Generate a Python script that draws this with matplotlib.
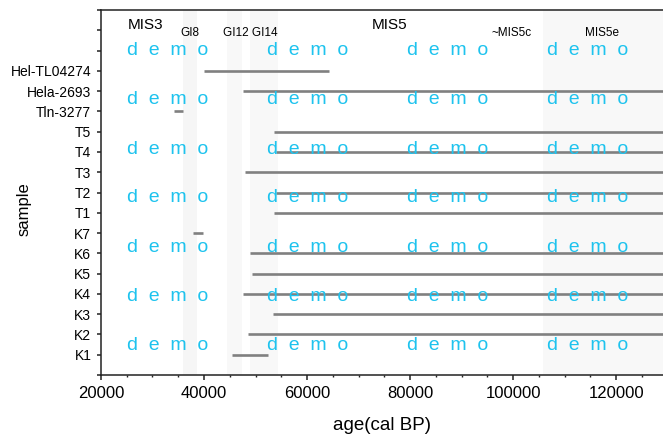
import numpy as np
import matplotlib
matplotlib.use("Agg")
import matplotlib.pyplot as plt

plt.rcParams['font.family'] = ['Liberation Sans', 'DejaVu Sans']

# samples, bottom to top
samples = ["K1", "K2", "K3", "K4", "K5", "K6", "K7",
           "T1", "T2", "T3", "T4", "T5",
           "Tln-3277", "Hela-2693", "Hel-TL04274"]
# age ranges (cal BP)
age_min = [45400, 48600, 53300, 47600, 49300, 48900, 37800,
           53500, 54000, 48000, 54000, 53500,
           34200, 47500, 40000]
age_max = [52500, 130000, 130000, 130000, 130000, 130000, 39900,
           130000, 130000, 130000, 130000, 130000,
           36000, 130000, 64300]

# climate intervals shaded in the background
band_start = [36000, 44500, 48900, 105800]
band_end = [38600, 47400, 54400, 130000]
band_color = ["#f6f6f6", "#f8f8f8", "#f8f8f8", "#f8f8f8"]

fig = plt.figure(figsize=(6.63, 4.43), dpi=100)
ax = fig.add_axes([0.1523, 0.1535, 0.8477, 0.8239])

for s, e, c in zip(band_start, band_end, band_color):
    ax.axvspan(s, e, color=c, lw=0, zorder=0)

y = np.arange(1, len(samples) + 1)
ax.hlines(y, age_min, age_max, color="#808080", lw=1.9, zorder=2)

# period labels
ax.text(25200, 17.26, "MIS3", fontsize=11, va="center")
ax.text(72600, 17.26, "MIS5", fontsize=11, va="center")
ax.text(35500, 16.86, "GI8", fontsize=8.5, va="center")
ax.text(43700, 16.86, "GI12 GI14", fontsize=8.5, va="center")
ax.text(95900, 16.86, "~MIS5c", fontsize=8.5, va="center")
ax.text(114000, 16.86, "MIS5e", fontsize=8.5, va="center")

ax.set_xlim(20000, 129100)
ax.set_ylim(0, 18)
ax.set_xticks([20000, 40000, 60000, 80000, 100000, 120000])
ax.set_xticks(np.arange(25000, 129000, 5000), minor=True)
ax.set_yticks(np.arange(0, 19))
ax.set_yticklabels([""] + samples + ["", "", ""])

ax.tick_params(axis="x", which="major", length=3.6, width=1.1, labelsize=12, pad=4, color="#222222")
ax.tick_params(axis="x", which="minor", length=1.6, width=1.0, color="#222222")
ax.tick_params(axis="y", length=3, width=1.1, labelsize=10, pad=4, color="#222222")

for side in ["left", "top", "bottom"]:
    ax.spines[side].set_linewidth(1.1)
    ax.spines[side].set_color("#222222")
ax.spines["right"].set_visible(False)

ax.set_xlabel("age(cal BP)", fontsize=13.5, labelpad=12)
ax.set_ylabel("sample", fontsize=12)
ax.yaxis.set_label_coords(-0.124, 0.455)

# watermark grid
W, H = 663.0, 443.0
for yb in [55, 104, 153.5, 202.5, 252, 301, 350]:
    for xl in [127, 267, 407, 547]:
        fig.text(xl / W, 1 - yb / H, "d  e  m  o", fontsize=14,
                 color="#1ec3ee", ha="left", va="baseline", zorder=10)

fig.savefig("out.png", dpi=100)
